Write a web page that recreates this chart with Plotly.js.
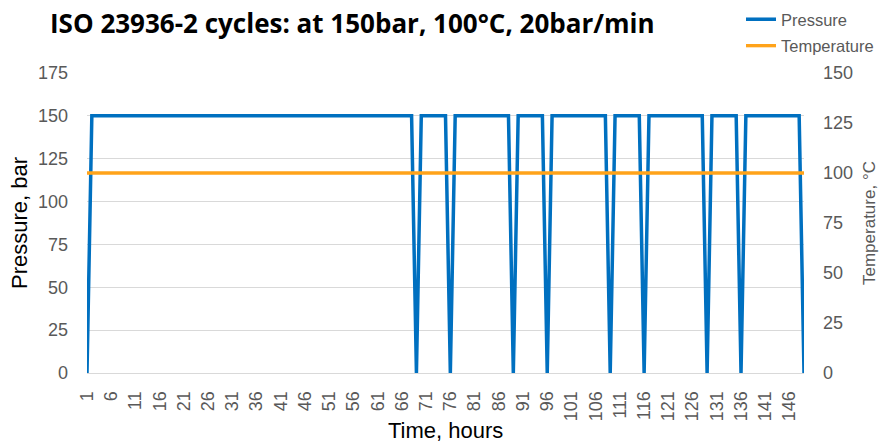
<!DOCTYPE html>
<html>
<head>
<meta charset="utf-8">
<script src="https://cdn.plot.ly/plotly-3.0.1.min.js"></script>
<style>html,body{margin:0;padding:0;background:#fff;}#chart{width:879px;height:443px;}</style>
</head>
<body>
<div id="chart"></div>
<script>
// Time, hours (categories)
const hours = [1,2,3,4,5,6,7,8,9,10,11,12,13,14,15,16,17,18,19,20,21,22,23,24,25,26,27,28,29,30,
31,32,33,34,35,36,37,38,39,40,41,42,43,44,45,46,47,48,49,50,51,52,53,54,55,56,57,58,59,60,
61,62,63,64,65,66,67,68,69,70,71,72,73,74,75,76,77,78,79,80,81,82,83,84,85,86,87,88,89,90,
91,92,93,94,95,96,97,98,99,100,101,102,103,104,105,106,107,108,109,110,111,112,113,114,115,116,117,118,119,120,
121,122,123,124,125,126,127,128,129,130,131,132,133,134,135,136,137,138,139,140,141,142,143,144,145,146,147,148,149];

// Pressure, bar
const pressure = [0,150,150,150,150,150,150,150,150,150,150,150,150,150,150,150,150,150,150,150,
150,150,150,150,150,150,150,150,150,150,150,150,150,150,150,150,150,150,150,150,
150,150,150,150,150,150,150,150,150,150,150,150,150,150,150,150,150,150,150,150,
150,150,150,150,150,150,150,150,0,150,150,150,150,150,150,0,150,150,150,150,
150,150,150,150,150,150,150,150,0,150,150,150,150,150,150,0,150,150,150,150,
150,150,150,150,150,150,150,150,0,150,150,150,150,150,150,0,150,150,150,150,
150,150,150,150,150,150,150,150,0,150,150,150,150,150,150,0,150,150,150,150,
150,150,150,150,150,150,150,150,0];

// Temperature, °C
const temperature = [100,100,100,100,100,100,100,100,100,100,100,100,100,100,100,100,100,100,100,100,
100,100,100,100,100,100,100,100,100,100,100,100,100,100,100,100,100,100,100,100,
100,100,100,100,100,100,100,100,100,100,100,100,100,100,100,100,100,100,100,100,
100,100,100,100,100,100,100,100,100,100,100,100,100,100,100,100,100,100,100,100,
100,100,100,100,100,100,100,100,100,100,100,100,100,100,100,100,100,100,100,100,
100,100,100,100,100,100,100,100,100,100,100,100,100,100,100,100,100,100,100,100,
100,100,100,100,100,100,100,100,100,100,100,100,100,100,100,100,100,100,100,100,
100,100,100,100,100,100,100,100,100];

const xTickLabels = [1,6,11,16,21,26,31,36,41,46,51,56,61,66,71,76,81,86,91,96,101,106,111,116,121,126,131,136,141,146];
const leftTicks = [0,25,50,75,100,125,150,175];
const rightTicks = [0,25,50,75,100,125,150];

const gray = '#595959';
const fam = 'Liberation Sans, Arial, sans-serif';
const axisFont = {family: fam, size: 18, color: gray};

const data = [
  {x: hours, y: pressure, name: 'Pressure', type: 'scatter', mode: 'lines', legendgroup: 'p',
   line: {color: '#0070C0', width: 3.5}, yaxis: 'y'},
  {x: hours, y: temperature, name: 'Temperature', type: 'scatter', mode: 'lines', legendgroup: 't',
   line: {color: '#FFA31A', width: 3.3}, yaxis: 'y2'}
];

const layout = {
  width: 879, height: 443,
  margin: {l: 87, r: 75, t: 73, b: 70, pad: 0},
  paper_bgcolor: '#fff', plot_bgcolor: '#fff',
  showlegend: true,
  title: {text: 'ISO 23936-2 cycles: at 150bar, 100°C, 20bar/min',
          font: {family: 'Open Sans, sans-serif', size: 26, color: '#000', weight: 700},
          x: 50/879, xanchor: 'left', xref: 'container', y: 1 - 24/443, yanchor: 'middle', yref: 'container'},
  legend: {x: 1.2, xanchor: 'left', y: 1 - 2/443, yanchor: 'top', yref: 'container',
           font: {family: fam, size: 16.5, color: gray}, traceorder: 'grouped', tracegroupgap: 2,
           bgcolor: 'rgba(0,0,0,0)', itemwidth: 30},
  xaxis: {
    type: 'linear', range: [1, 149], tickmode: 'array', tickvals: xTickLabels,
    ticktext: xTickLabels.map(String), tickangle: -90, tickfont: {family: fam, size: 18, color: gray},
    showgrid: false, zeroline: false, showline: true, linecolor: '#D9D9D9', linewidth: 1,
    ticks: '', ticklabelstandoff: 10, fixedrange: true
  },
  yaxis: {
    range: [0, 175], tickmode: 'array', tickvals: leftTicks, tickfont: axisFont,
    showgrid: true, gridcolor: '#D9D9D9', gridwidth: 1, zeroline: false, showline: false,
    ticks: '', ticklabelstandoff: 18, fixedrange: true
  },
  yaxis2: {
    range: [0, 150], overlaying: 'y', side: 'right', tickmode: 'array', tickvals: rightTicks,
    tickfont: axisFont, showgrid: false, zeroline: false, showline: false,
    ticks: '', ticklabelstandoff: 18, fixedrange: true
  },
  annotations: [
    {text: 'Pressure, bar', xref: 'paper', yref: 'paper', x: (19-87)/717, y: 0.5, textangle: -90,
     showarrow: false, xanchor: 'center', yanchor: 'middle',
     font: {family: fam, size: 22, color: '#000'}},
    {text: 'Temperature, °C', xref: 'paper', yref: 'paper', x: (869-87)/717, y: 0.5, textangle: -90,
     showarrow: false, xanchor: 'center', yanchor: 'middle',
     font: {family: fam, size: 17, color: gray}},
    {text: 'Time, hours', xref: 'paper', yref: 'paper', x: (445-87)/717, y: -57/300,
     showarrow: false, xanchor: 'center', yanchor: 'middle',
     font: {family: fam, size: 22, color: '#000'}}
  ]
};

Plotly.newPlot('chart', data, layout, {displayModeBar: false, staticPlot: true});
</script>
</body>
</html>
